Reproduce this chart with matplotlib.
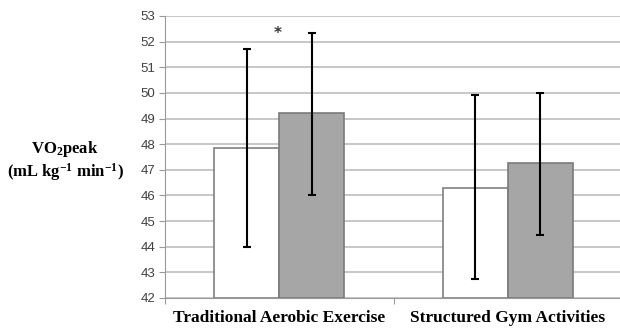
import numpy as np
import matplotlib
matplotlib.use("Agg")
import matplotlib.pyplot as plt

categories = ["Traditional Aerobic Exercise", "Structured Gym Activities"]
pre_values = [47.85, 46.3]
post_values = [49.2, 47.25]
pre_upper = [51.7, 49.9]
pre_lower = [44.0, 42.75]
post_upper = [52.35, 50.0]
post_lower = [46.0, 44.45]

plt.rcParams["mathtext.fontset"] = "custom"
plt.rcParams["mathtext.rm"] = "Liberation Serif:bold"
plt.rcParams["mathtext.bf"] = "Liberation Serif:bold"
plt.rcParams["mathtext.it"] = "Liberation Serif:bold"


def main():
    fig = plt.figure(figsize=(6.2, 3.28), dpi=100)
    ax = fig.add_axes([165 / 620, 1 - 298 / 328, 457 / 620, 282 / 328])

    x = np.arange(len(categories))
    w = 0.284
    pre_err = [np.array(pre_values) - np.array(pre_lower),
               np.array(pre_upper) - np.array(pre_values)]
    post_err = [np.array(post_values) - np.array(post_lower),
                np.array(post_upper) - np.array(post_values)]

    ax.bar(x - w / 2, np.array(pre_values) - 42, w, bottom=42, color="white",
           edgecolor="#808080", linewidth=1.2, zorder=2)
    ax.bar(x + w / 2, np.array(post_values) - 42, w, bottom=42, color="#A6A6A6",
           edgecolor="#7a7a7a", linewidth=1.2, zorder=2)
    ax.errorbar(x - w / 2, pre_values, yerr=pre_err, fmt="none", ecolor="black",
                elinewidth=1.5, capsize=3, capthick=1.5, zorder=3)
    ax.errorbar(x + w / 2, post_values, yerr=post_err, fmt="none", ecolor="black",
                elinewidth=1.5, capsize=3, capthick=1.5, zorder=3)
    ax.text(x[0] - 0.005, 52.3, "*", ha="center", va="center", fontsize=11,
            fontweight="bold", color="#333333")

    ax.set_ylim(42, 53)
    ax.set_xlim(-0.5, 1.5)
    ax.set_yticks(np.arange(42, 54, 1))
    ax.yaxis.grid(True, color="#BEBEBE", linewidth=1.2, zorder=0)
    ax.set_axisbelow(True)
    for lab in ax.get_yticklabels():
        lab.set_fontfamily("Liberation Sans")
        lab.set_fontsize(9.5)
        lab.set_color("#404040")
    ax.tick_params(axis="y", length=4, color="#9a9a9a", pad=3)

    ax.set_xticks([-0.5, 0.5, 1.5])
    ax.set_xticklabels([])
    ax.set_xticks(x, minor=True)
    ax.set_xticklabels(categories, minor=True, fontfamily="Liberation Serif",
                       fontweight="bold", fontsize=12.5)
    ax.tick_params(axis="x", which="minor", length=0, pad=9)
    ax.tick_params(axis="x", which="major", length=4, color="#9a9a9a")

    for s in ["top", "right"]:
        ax.spines[s].set_visible(False)
    ax.spines["left"].set_color("#9a9a9a")
    ax.spines["bottom"].set_color("#9a9a9a")

    fig.text(65 / 620, 1 - 161 / 328, "VO$_2$peak\n(mL kg$^{-1}$ min$^{-1}$)",
             ha="center", va="center", fontfamily="Liberation Serif",
             fontweight="bold", fontsize=12, linespacing=1.1)

    fig.savefig("out.png", dpi=100)


if __name__ == '__main__':
    main()
